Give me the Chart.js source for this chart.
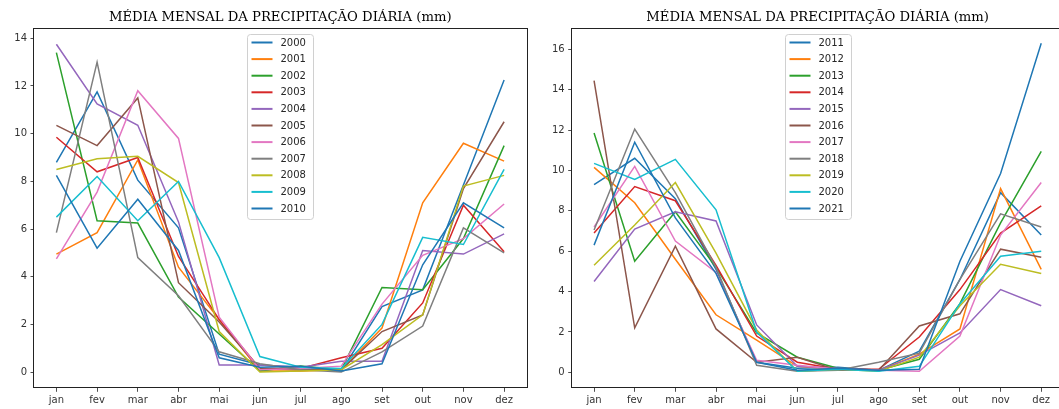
<!DOCTYPE html>
<html>
<head>
<meta charset="utf-8">
<script src="https://cdn.jsdelivr.net/npm/chart.js@4.4.0/dist/chart.umd.min.js"></script>
<style>
    html, body { margin: 0; padding: 0; background: #fff; overflow: hidden; width: 1059px; height: 409px; }
    canvas { position: absolute; top: 0; }
    #leftChart { left: 0; }
    #rightChart { left: 530px; }
</style>
</head>
<body>
<canvas id="leftChart" width="530" height="409"></canvas>
<canvas id="rightChart" width="538" height="409"></canvas>
<script>
var months = ['jan', 'fev', 'mar', 'abr', 'mai', 'jun', 'jul', 'ago', 'set', 'out', 'nov', 'dez'];
var title = 'MÉDIA MENSAL DA PRECIPITAÇÃO DIÁRIA (mm)';
var tab10 = ['#1f77b4', '#ff7f0e', '#2ca02c', '#d62728', '#9467bd', '#8c564b', '#e377c2', '#7f7f7f', '#bcbd22', '#17becf'];

// 2000 - 2010
var p2000 = [8.8, 11.75, 8.05, 6.05, 0.75, 0.3, 0.2, 0.05, 2.75, 3.45, 7.85, 12.25];
var p2001 = [4.95, 5.85, 8.9, 4.4, 2.2, 0.05, 0.05, 0.1, 1.85, 7.1, 9.6, 8.85];
var p2002 = [13.4, 6.35, 6.25, 3.15, 1.6, 0.05, 0.25, 0.1, 3.55, 3.45, 5.6, 9.5];
var p2003 = [9.85, 8.4, 9.0, 4.85, 2.2, 0.15, 0.15, 0.6, 1.0, 2.9, 7.0, 5.05];
var p2004 = [13.75, 11.25, 10.35, 6.3, 0.3, 0.3, 0.2, 0.45, 0.45, 5.1, 4.95, 5.8];
var p2005 = [10.35, 9.5, 11.5, 3.75, 2.1, 0.15, 0.1, 0.1, 1.7, 2.4, 7.7, 10.5];
var p2006 = [4.75, 7.55, 11.8, 9.8, 2.3, 0.1, 0.15, 0.25, 2.85, 4.9, 5.6, 7.05];
var p2007 = [5.85, 13.0, 4.8, 3.2, 0.85, 0.35, 0.1, 0.0, 0.85, 1.93, 6.05, 5.0];
var p2008 = [8.5, 8.95, 9.05, 7.95, 1.7, 0.0, 0.05, 0.1, 1.15, 2.4, 7.8, 8.25];
var p2009 = [6.5, 8.2, 6.35, 8.0, 4.8, 0.65, 0.2, 0.15, 2.0, 5.65, 5.35, 8.5];
var p2010 = [8.25, 5.2, 7.25, 5.1, 0.6, 0.2, 0.25, 0.05, 0.35, 4.5, 7.1, 6.05];

// 2011 - 2021
var p2011 = [9.3, 10.6, 8.6, 5.1, 0.5, 0.2, 0.25, 0.1, 1.05, 4.6, 8.9, 6.8];
var p2012 = [10.15, 8.4, 5.6, 2.85, 1.6, 0.3, 0.15, 0.1, 0.9, 2.15, 9.1, 5.1];
var p2013 = [11.85, 5.5, 7.95, 5.2, 1.95, 0.75, 0.2, 0.1, 0.65, 3.4, 7.4, 10.95];
var p2014 = [6.9, 9.2, 8.5, 5.3, 1.8, 0.5, 0.15, 0.15, 1.75, 4.1, 6.9, 8.25];
var p2015 = [4.5, 7.1, 7.95, 7.5, 2.35, 0.3, 0.2, 0.1, 0.85, 1.95, 4.1, 3.3];
var p2016 = [14.45, 2.2, 6.25, 2.15, 0.5, 0.75, 0.1, 0.1, 2.3, 2.9, 6.1, 5.7];
var p2017 = [7.2, 10.2, 6.5, 4.95, 0.6, 0.35, 0.15, 0.1, 0.05, 1.8, 6.8, 9.4];
var p2018 = [7.05, 12.05, 8.9, 5.2, 0.35, 0.05, 0.1, 0.5, 0.95, 4.6, 7.85, 7.2];
var p2019 = [5.3, 7.3, 9.4, 5.9, 2.1, 0.05, 0.15, 0.05, 0.75, 3.3, 5.35, 4.9];
var p2020 = [10.35, 9.55, 10.55, 8.05, 2.0, 0.05, 0.15, 0.05, 0.3, 3.4, 5.75, 6.0];
var p2021 = [6.3, 11.4, 7.65, 4.9, 0.5, 0.1, 0.2, 0.1, 0.15, 5.5, 9.85, 16.3];

var yearsLeft = ['2000', '2001', '2002', '2003', '2004', '2005', '2006', '2007', '2008', '2009', '2010'];
var seriesLeft = [p2000, p2001, p2002, p2003, p2004, p2005, p2006, p2007, p2008, p2009, p2010];
var yearsRight = ['2011', '2012', '2013', '2014', '2015', '2016', '2017', '2018', '2019', '2020', '2021'];
var seriesRight = [p2011, p2012, p2013, p2014, p2015, p2016, p2017, p2018, p2019, p2020, p2021];

// frame, title and legend drawn the matplotlib way
var framePlugin = {
    id: 'frameTitleLegend',
    afterDatasetsDraw: function (chart) {
        var ctx = chart.ctx, a = chart.chartArea;
        ctx.save();
        ctx.strokeStyle = '#222';
        ctx.lineWidth = 1;
        ctx.strokeRect(Math.round(a.left) - 0.5, Math.round(a.top) + 0.5,
            Math.round(a.right) - Math.round(a.left) + 1, Math.round(a.bottom) - Math.round(a.top) - 1);

        ctx.fillStyle = '#000';
        ctx.font = '13.2px "DejaVu Serif"';
        ctx.textAlign = 'center';
        ctx.textBaseline = 'alphabetic';
        ctx.fillText(title, (a.left + a.right) / 2, 21);

        // legend box
        var w = 66, h = 185, r = 3;
        var lx = Math.round((a.left + a.right) / 2 - w / 2) + 0.5, ly = Math.round(a.top + 5.7) + 0.5;
        ctx.beginPath();
        ctx.moveTo(lx + r, ly);
        ctx.arcTo(lx + w, ly, lx + w, ly + h, r);
        ctx.arcTo(lx + w, ly + h, lx, ly + h, r);
        ctx.arcTo(lx, ly + h, lx, ly, r);
        ctx.arcTo(lx, ly, lx + w, ly, r);
        ctx.closePath();
        ctx.fillStyle = 'rgba(255,255,255,0.8)';
        ctx.fill();
        ctx.strokeStyle = '#d0d0d0';
        ctx.stroke();

        ctx.font = '10px "DejaVu Sans"';
        ctx.textAlign = 'left';
        ctx.textBaseline = 'middle';
        chart.data.datasets.forEach(function (ds, i) {
            var y = ly + 8 + i * 16.6;
            ctx.strokeStyle = ds.borderColor;
            ctx.lineWidth = 2;
            ctx.beginPath();
            ctx.moveTo(lx + 4, y);
            ctx.lineTo(lx + 25, y);
            ctx.stroke();
            ctx.fillStyle = '#262626';
            ctx.fillText(ds.label, lx + 33, y + 0.5);
        });
        ctx.restore();
    }
};

function makeChart(id, years, series, yMin, yMax, yAxisWidth, padRight) {
    var datasets = years.map(function (yr, i) {
        return {
            label: yr,
            data: series[i].map(function (v, m) { return { x: m, y: v }; }),
            borderColor: tab10[i % 10],
            backgroundColor: tab10[i % 10],
            borderWidth: 1.5,
            pointRadius: 0,
            tension: 0,
            fill: false,
            order: -i
        };
    });

    return new Chart(document.getElementById(id).getContext('2d'), {
        type: 'line',
        data: { datasets: datasets },
        options: {
            responsive: false,
            animation: false,
            devicePixelRatio: 1,
            layout: { padding: { top: 28.3, right: padRight, left: 0, bottom: 0 } },
            plugins: {
                legend: { display: false },
                title: { display: false },
                tooltip: { enabled: false }
            },
            scales: {
                x: {
                    type: 'linear',
                    min: -0.55,
                    max: 11.55,
                    afterFit: function (s) { s.height = 20.7; },
                    border: { display: false },
                    grid: { drawOnChartArea: false, drawTicks: true, tickLength: 3.5, color: '#222', lineWidth: 0.8 },
                    ticks: {
                        stepSize: 1,
                        includeBounds: false,
                        autoSkip: false,
                        maxRotation: 0,
                        padding: 3,
                        color: '#333',
                        font: { family: 'DejaVu Sans', size: 10 },
                        callback: function (v) { return months[v]; }
                    }
                },
                y: {
                    min: yMin,
                    max: yMax,
                    afterFit: function (s) { s.width = yAxisWidth; },
                    border: { display: false },
                    grid: { drawOnChartArea: false, drawTicks: true, tickLength: 3.5, color: '#222', lineWidth: 0.8 },
                    ticks: {
                        stepSize: 2,
                        includeBounds: false,
                        padding: 3.5,
                        color: '#333',
                        font: { family: 'DejaVu Sans', size: 10 }
                    }
                }
            }
        },
        plugins: [framePlugin]
    });
}

makeChart('leftChart', yearsLeft, seriesLeft, -0.68, 14.42, 34, 3.5);
makeChart('rightChart', yearsRight, seriesRight, -0.79, 17.04, 41.7, 4.4);
</script>
</body>
</html>
